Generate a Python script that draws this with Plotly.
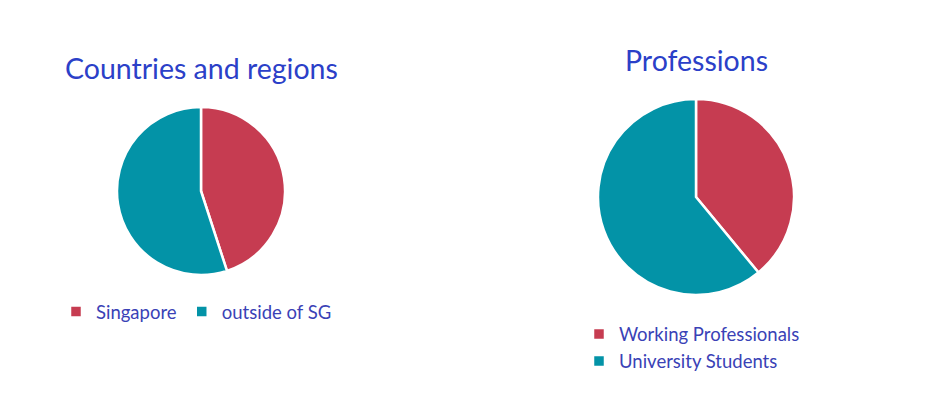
import plotly.graph_objects as go

region_labels = ["Singapore", "outside of SG"]
region_values = [45, 55]
prof_labels = ["Working Professionals", "University Students"]
prof_values = [39, 61]
colors = ["#C63C51", "#0393A7"]
title_color = "#2B40C8"
text_color = "#3A42B6"
FONT = "Lato"

W, H = 944, 396

fig = go.Figure()
fig.add_trace(go.Pie(
    labels=region_labels, values=region_values, sort=False, direction="clockwise",
    rotation=0, marker=dict(colors=colors, line=dict(color="white", width=2.5)),
    textinfo="none", hoverinfo="label+percent",
    domain=dict(x=[117 / W, 285 / W], y=[(H - 275) / H, (H - 107) / H]),
    legend="legend",
))
fig.add_trace(go.Pie(
    labels=prof_labels, values=prof_values, sort=False, direction="clockwise",
    rotation=0, marker=dict(colors=colors, line=dict(color="white", width=2.5)),
    textinfo="none", hoverinfo="label+percent",
    domain=dict(x=[598 / W, 794 / W], y=[(H - 295) / H, (H - 99) / H]),
    legend="legend2",
))

fig.update_layout(
    width=W, height=H, margin=dict(l=0, r=0, t=0, b=0),
    paper_bgcolor="white", plot_bgcolor="white",
    font=dict(family=FONT, color=text_color, size=18.5),
    legend=dict(orientation="h", x=56 / W, y=(H - 293) / H, xanchor="left", yanchor="top",
                font=dict(size=18.5, color=text_color), itemclick=False, bgcolor="rgba(0,0,0,0)"),
    legend2=dict(orientation="v", x=579 / W, y=(H - 315.5) / H, xanchor="left", yanchor="top",
                 font=dict(size=18.5, color=text_color), itemclick=False, bgcolor="rgba(0,0,0,0)"),
    annotations=[
        dict(text="Countries and regions", x=201 / W, y=(H - 68) / H, xref="paper", yref="paper",
             showarrow=False, xanchor="center", yanchor="middle",
             font=dict(size=28.5, color=title_color, family=FONT)),
        dict(text="Professions", x=696 / W, y=(H - 60) / H, xref="paper", yref="paper",
             showarrow=False, xanchor="center", yanchor="middle",
             font=dict(size=28.5, color=title_color, family=FONT)),
    ],
)

fig.write_html("out.html")
